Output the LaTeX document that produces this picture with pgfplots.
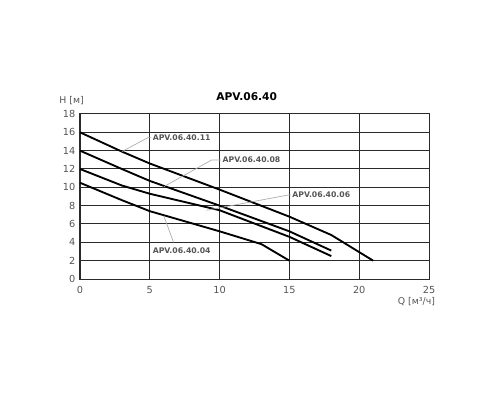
\documentclass[border=0pt]{standalone}
\usepackage{pgfplots}
\pgfplotsset{compat=1.18}
\usepackage{fontspec}
\setmainfont{DejaVu Sans}
\definecolor{gridc}{HTML}{2A2A2A}
\definecolor{labc}{HTML}{555555}
\definecolor{leadc}{HTML}{AAAAAA}
\begin{document}
\begin{tikzpicture}
\begin{axis}[
  name=ax,
  scale only axis,
  width=261.75pt, height=123.75pt,
  xmin=0, xmax=25, ymin=0, ymax=18,
  xtick={0,5,...,25}, ytick={0,2,...,18},
  grid=major,
  major grid style={gridc, line width=0.75pt},
  axis line style={gridc, line width=0.75pt},
  tick style={draw=none},
  ticklabel style={font=\fontsize{7.3}{8}\selectfont, text=labc},
  xticklabel style={yshift=-2pt},
  /pgf/number format/assume math mode=true,
  clip=false,
]
\addplot[black, line width=1.4pt] coordinates {
  (0,16) (3,13.9) (5,12.6) (10,9.75) (15,6.8) (18,4.8) (21,2)};
\addplot[black, line width=1.4pt] coordinates {
  (0,14) (3,12) (5,10.7) (10,8.0) (15,5.2) (18,3.1)};
\addplot[black, line width=1.4pt] coordinates {
  (0,12) (3,10.2) (5,9.3) (10,7.5) (15,4.6) (18,2.5)};
\addplot[black, line width=1.4pt] coordinates {
  (0,10.5) (3,8.6) (5,7.4) (10,5.2) (13,3.8) (15,2)};
% leader lines and labels
\draw[leadc, line width=0.5pt] (axis cs:3,13.9) -- (axis cs:4.9,15.45) -- (axis cs:5.1,15.45);
\draw[leadc, line width=0.5pt] (axis cs:6,10.07) -- (axis cs:9.43,12.98) -- (axis cs:10.1,12.98);
\draw[leadc, line width=0.5pt] (axis cs:9.07,7.5) -- (axis cs:14.9,9.16) -- (axis cs:15.1,9.16);
\draw[leadc, line width=0.5pt] (axis cs:6,6.9) -- (axis cs:6.7,4.0);
\begin{scope}[every node/.style={font=\fontsize{5.8}{7}\selectfont\bfseries, text=labc, inner sep=1pt, anchor=west}]
\node at (axis cs:5.1,15.45) {APV.06.40.11};
\node at (axis cs:10.1,12.98) {APV.06.40.08};
\node at (axis cs:15.1,9.16) {APV.06.40.06};
\node at (axis cs:5.1,3.05) {APV.06.40.04};
\end{scope}
\node[font=\fontsize{8}{9}\selectfont\bfseries] at (axis cs:11.94,19.88) {APV.06.40};
\node[font=\fontsize{7}{8}\selectfont, text=labc] at (axis cs:-0.6,19.5) {H [м]};
\node[font=\fontsize{7}{8}\selectfont, text=labc] at (axis cs:24.1,-2.48) {Q [м³/ч]};
\end{axis}
\path (ax.south west) ++(-60pt,-90.75pt) rectangle ++(375pt,300pt);
\end{tikzpicture}
\end{document}
